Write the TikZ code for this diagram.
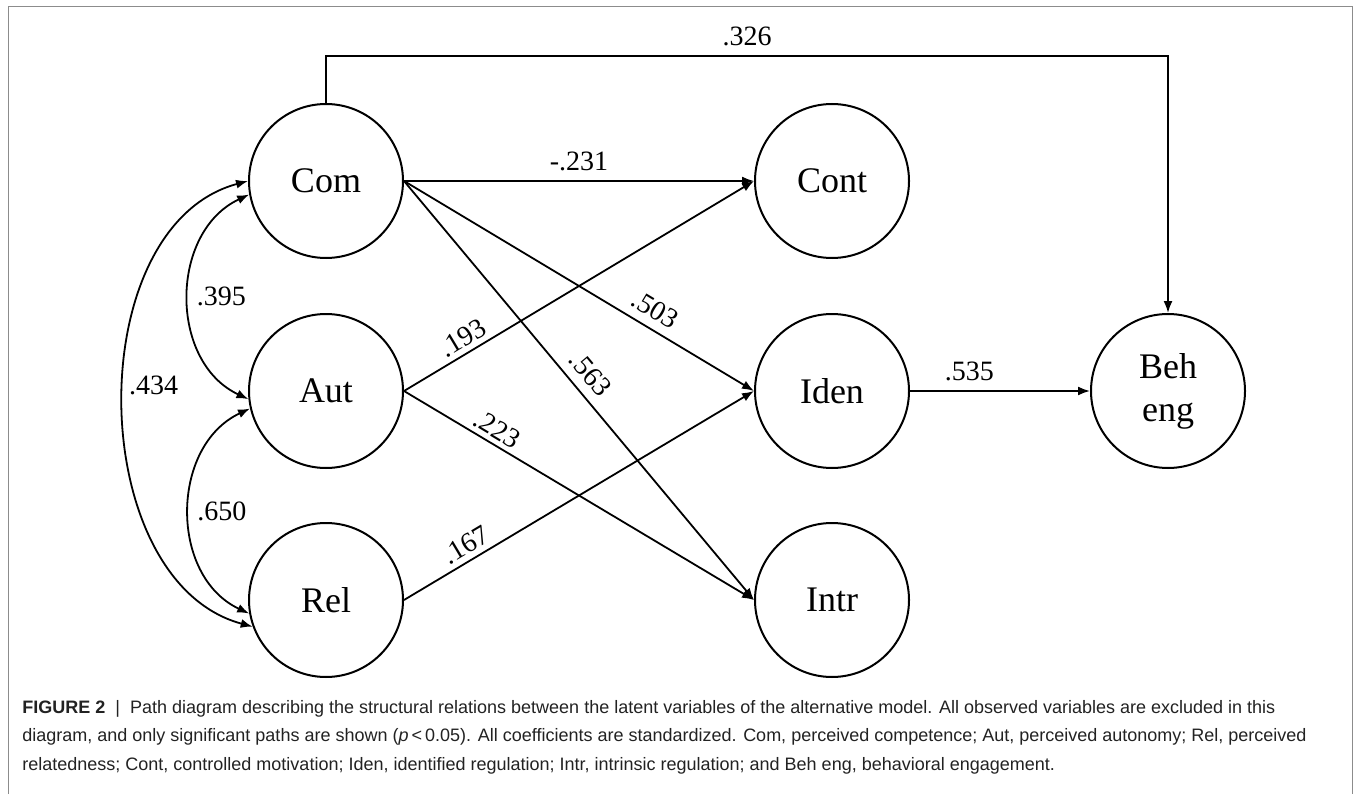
\documentclass[tikz,border=0pt]{standalone}
\usepackage{fontspec}
\setmainfont{Liberation Serif}
\newfontfamily\capfont{Liberation Sans}
\usetikzlibrary{arrows.meta}
\definecolor{framegray}{HTML}{8C8C8C}
\definecolor{captext}{HTML}{222222}

\begin{document}
\begin{tikzpicture}[x=5pt, y=5pt, every node/.style={align=center},
  latent/.style={draw, circle, line width=1pt, minimum size=77pt, inner sep=0pt, font=\fontsize{18}{21.5}\selectfont},
  regpath/.style={-{Latex[length=6pt,width=4.5pt]}, line width=0.9pt},
  cov/.style={{Latex[length=6pt,width=4.5pt]}-{Latex[length=6pt,width=4.5pt]}, line width=0.9pt},
  coef/.style={font=\fontsize{14}{15}\selectfont, inner sep=4.5pt},
  slopecoef/.style={coef, sloped, above, inner sep=2.5pt}]
\useasboundingbox (0,0) rectangle (135.4,79.4);
% Frame round the figure
\draw[framegray, line width=0.5pt] (0.8,0) -- (0.8,78.7) -- (135.2,78.7) -- (135.2,0);

% Latent variables
\node[latent] (com) at (32.6,61.3) {Com};
\node[latent] (aut) at (32.6,40.3) {Aut};
\node[latent] (rel) at (32.6,19.4) {Rel};
\node[latent] (cont) at (83.2,61.3) {Cont};
\node[latent] (iden) at (83.2,40.3) {Iden};
\node[latent] (intr) at (83.2,19.4) {Intr};
\node[latent] (beh) at (116.8,40.3) {Beh\\eng};

% Covariances
\draw[cov] (com.190) to[out=205, in=155, looseness=1.1] node[coef, right, xshift=-1pt] {.395} (aut.186);
\draw[cov] (aut.193) to[out=205, in=155, looseness=1.1] node[coef, right, xshift=-1pt] {.650} (rel.190);
\draw[cov] (com.180) to[out=195, in=165] node[coef, right, xshift=-2.5pt, pos=0.47] {.434} (rel.200);

% Paths
\draw[regpath] (com.east) -- node[coef, above] {-.231} (cont.west);
\draw[regpath] (com.east) -- node[slopecoef, inner sep=4.5pt, pos=0.69] {.503} (iden.west);
\draw[regpath] (com.east) -- node[slopecoef, inner sep=4.5pt, pos=0.49] {.563} (intr.west);
\draw[regpath] (aut.east) -- node[slopecoef, pos=0.19] {.193} (cont.west);
\draw[regpath] (aut.east) -- node[slopecoef, pos=0.245] {.223} (intr.west);
\draw[regpath] (rel.east) -- node[slopecoef, pos=0.2] {.167} (iden.west);
\draw[regpath] (iden.east) -- node[coef, above, pos=0.33] {.535} (beh.west);
\draw[regpath] (com.north) -- ++(0,4.7) -| node[coef, above, pos=0.25] {.326} (beh.north);

% Caption
\node[anchor=north west, align=left, inner sep=0pt, text=captext,
  font=\capfont\fontsize{9}{14.25}\selectfont] (caption) at (2.2,9.4)
  {\textbf{FIGURE 2}\hspace{5pt}|\hspace{5pt}Path diagram describing the structural relations between the latent variables of the alternative model. All observed variables are excluded in this\\
  diagram, and only significant paths are shown (\textit{p}\,<\,0.05). All coefficients are standardized. Com, perceived competence; Aut, perceived autonomy; Rel, perceived\\
  relatedness; Cont, controlled motivation; Iden, identified regulation; Intr, intrinsic regulation; and Beh eng, behavioral engagement.};
\end{tikzpicture}
\end{document}
